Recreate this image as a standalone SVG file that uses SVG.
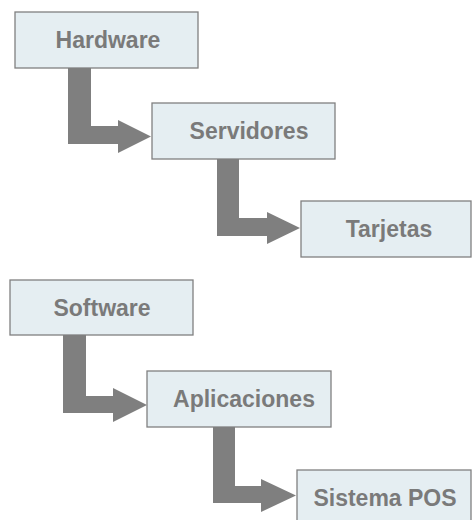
<svg xmlns="http://www.w3.org/2000/svg" width="472" height="520" viewBox="0 0 472 520">
<style>
.box{fill:#e5eef2;stroke:#808080;stroke-width:1.3}
.lbl{font-family:"Liberation Sans",Arial,sans-serif;font-weight:bold;font-size:23px;fill:#7a7a7a;text-anchor:middle}
.arr{fill:#7f7f7f}
</style>
<rect width="472" height="520" fill="#ffffff"/>
<g id="connectors">
<path class="arr" d="M68,68 H91 V126 H118 V120 L151,136.5 L118,153 V144 H68 Z"/>
<path class="arr" d="M217,159 H239 V218 H267 V212 L300,228 L267,244 V236 H217 Z"/>
<path class="arr" d="M63,335 H86 V396 H113 V388 L147,405 L113,422 V413 H63 Z"/>
<path class="arr" d="M213,427 H235 V486 H261 V479 L296,495.5 L261,512 V503 H213 Z"/>
</g>
<g id="hardware"><rect class="box" x="15" y="12" width="183" height="56"/><text class="lbl" x="108" y="48">Hardware</text></g>
<g id="servidores"><rect class="box" x="152" y="103" width="183" height="56"/><text class="lbl" x="249" y="139">Servidores</text></g>
<g id="tarjetas"><rect class="box" x="301" y="201" width="170" height="56"/><text class="lbl" x="389" y="237">Tarjetas</text></g>
<g id="software"><rect class="box" x="10" y="280" width="183" height="55"/><text class="lbl" x="102" y="315.5">Software</text></g>
<g id="aplicaciones"><rect class="box" x="147" y="371" width="184" height="56"/><text class="lbl" x="244" y="407">Aplicaciones</text></g>
<g id="sistema-pos"><rect class="box" x="297" y="470" width="174" height="60"/><text class="lbl" x="385" y="506">Sistema POS</text></g>
</svg>
